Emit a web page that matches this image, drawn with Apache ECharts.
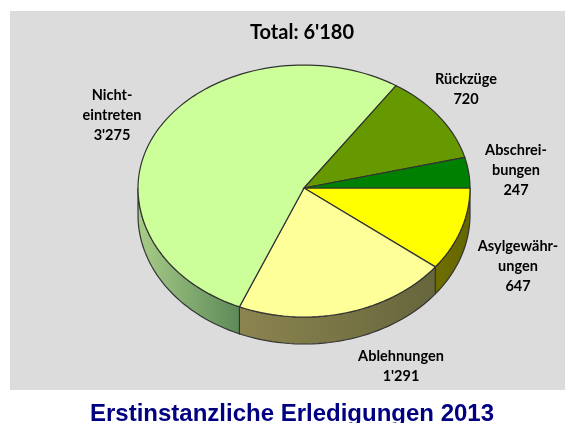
<!DOCTYPE html>
<html>
<head>
<meta charset="utf-8">
<style>
html, body { margin: 0; padding: 0; background: #fff; }
#main { width: 565px; height: 423px; }
</style>
<script src="https://cdn.jsdelivr.net/npm/echarts@6/dist/echarts.min.js"></script>
</head>
<body>
<div id="main"></div>
<script>
var categories = ['Asylgewährungen', 'Ablehnungen', 'Nichteintreten', 'Rückzüge', 'Abschreibungen'];
var values = [647, 1291, 3275, 720, 247];
var labelLines = [
  ['Asylgewähr-', 'ungen'],
  ['Ablehnungen'],
  ['Nicht-', 'eintreten'],
  ['Rückzüge'],
  ['Abschrei-', 'bungen']
];
var topColors = ['#ffff00', '#ffff99', '#ccff99', '#669900', '#008000'];
var wallLeft = ['#6e6e00', '#8c8450', '#a8cc88', '#669900', '#008000'];
var wallRight = ['#666600', '#66663c', '#5c8a58', '#669900', '#008000'];

// geometry of the tilted disc
var cx = 304, cy = 188, rx = 166, ryTop = 123, ryBottom = 129, depth = 27;
var labelPos = [[518, 266], [401, 366], [112, 115], [466, 89], [516, 170]];

function fmt(v) {
  return String(v).replace(/\B(?=(\d{3})+$)/g, "'");
}

var total = values.reduce(function (a, b) { return a + b; }, 0);

function pointAt(deg) {
  var a = deg * Math.PI / 180;
  var s = Math.sin(a);
  return [cx + rx * Math.cos(a), cy + (s > 0 ? ryBottom : ryTop) * s];
}

function arc(from, to) {
  var pts = [];
  var n = Math.max(2, Math.ceil(Math.abs(to - from) / 2));
  for (var i = 0; i <= n; i++) {
    pts.push(pointAt(from + (to - from) * i / n));
  }
  return pts;
}

function renderSlice(params, api) {
  var i = params.dataIndex;
  var start = 0;
  for (var k = 0; k < i; k++) start += values[k];
  var from = start / total * 360;
  var to = (start + values[i]) / total * 360;
  var children = [];

  // side wall, only on the front half of the disc
  var wFrom = Math.max(from, 0), wTo = Math.min(to, 180);
  if (wTo > wFrom) {
    var upper = arc(wFrom, wTo);
    var lower = upper.map(function (p) { return [p[0], p[1] + depth]; }).reverse();
    var xs = upper.map(function (p) { return p[0]; });
    var x0 = Math.min.apply(null, xs), x1 = Math.max.apply(null, xs);
    children.push({
      type: 'polygon',
      shape: { points: upper.concat(lower) },
      style: {
        fill: new echarts.graphic.LinearGradient(x0, 0, x1, 0, [
          { offset: 0, color: wallLeft[i] },
          { offset: 1, color: wallRight[i] }
        ], true),
        stroke: '#333', lineWidth: 1.2
      }
    });
  }

  // top face
  children.push({
    type: 'polygon',
    shape: { points: [[cx, cy]].concat(arc(from, to)) },
    style: { fill: topColors[i], stroke: '#333', lineWidth: 1.2 }
  });

  // label
  children.push({
    type: 'text',
    x: labelPos[i][0],
    y: labelPos[i][1],
    style: {
      text: labelLines[i].concat(fmt(values[i])).join('\n'),
      fontFamily: 'Lato',
      fontWeight: 'bold',
      fontSize: 14.5,
      lineHeight: 20,
      fill: '#000',
      align: 'center',
      verticalAlign: 'middle'
    }
  });

  return { type: 'group', children: children };
}

var chart = echarts.init(document.getElementById('main'), null, { renderer: 'canvas' });
chart.setOption({
  animation: false,
  backgroundColor: '#fff',
  graphic: [{
    type: 'rect',
    z: -1,
    shape: { x: 10, y: 11, width: 555, height: 379 },
    style: { fill: '#dcdcdc' }
  }],
  title: [{
    text: 'Total: ' + fmt(total),
    left: 297,
    top: 18,
    textAlign: 'center',
    textStyle: { fontFamily: 'Lato', fontWeight: 'bold', fontSize: 20, color: '#000' }
  }, {
    text: 'Erstinstanzliche Erledigungen 2013',
    left: 287,
    top: 397,
    textAlign: 'center',
    textStyle: { fontFamily: 'Liberation Sans', fontWeight: 'bold', fontSize: 24, color: '#000080' }
  }],
  series: [{
    type: 'custom',
    coordinateSystem: 'none',
    renderItem: renderSlice,
    data: categories.map(function (c, i) { return { name: c, value: values[i] }; })
  }]
});
</script>
</body>
</html>
